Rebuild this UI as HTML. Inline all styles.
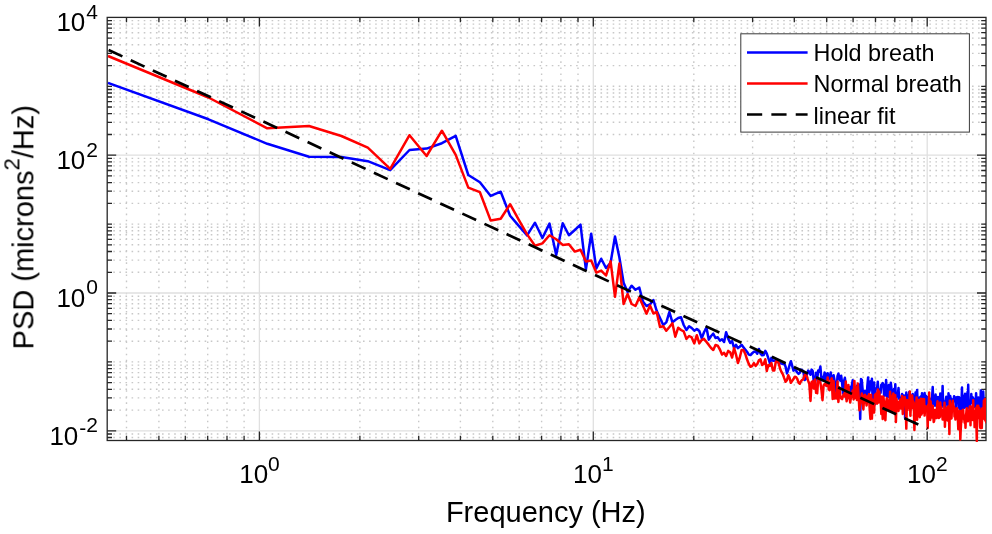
<!DOCTYPE html><html><head><meta charset="utf-8"><style>html,body{margin:0;padding:0;background:#fff;}svg{display:block;}</style></head><body><svg width="992" height="534" viewBox="0 0 992 534"><defs><clipPath id="ax"><rect x="107.2" y="15.9" width="878.8" height="426.1"/></clipPath></defs><rect width="992" height="534" fill="#fff"/><path d="M126.5 440.5V17.4M158.9 440.5V17.4M185.3 440.5V17.4M207.7 440.5V17.4M227.0 440.5V17.4M244.1 440.5V17.4M359.9 440.5V17.4M418.7 440.5V17.4M460.4 440.5V17.4M492.8 440.5V17.4M519.2 440.5V17.4M541.6 440.5V17.4M560.9 440.5V17.4M578.0 440.5V17.4M693.8 440.5V17.4M752.6 440.5V17.4M794.3 440.5V17.4M826.7 440.5V17.4M853.1 440.5V17.4M875.5 440.5V17.4M894.8 440.5V17.4M911.9 440.5V17.4M107.2 437.5H986.0M107.2 434.0H986.0M107.2 410.1H986.0M107.2 397.9H986.0M107.2 389.3H986.0M107.2 382.6H986.0M107.2 377.2H986.0M107.2 372.6H986.0M107.2 368.6H986.0M107.2 365.1H986.0M107.2 361.9H986.0M107.2 341.2H986.0M107.2 329.0H986.0M107.2 320.4H986.0M107.2 313.7H986.0M107.2 308.3H986.0M107.2 303.7H986.0M107.2 299.7H986.0M107.2 296.2H986.0M107.2 272.3H986.0M107.2 260.1H986.0M107.2 251.5H986.0M107.2 244.8H986.0M107.2 239.4H986.0M107.2 234.8H986.0M107.2 230.8H986.0M107.2 227.3H986.0M107.2 224.1H986.0M107.2 203.4H986.0M107.2 191.2H986.0M107.2 182.6H986.0M107.2 175.9H986.0M107.2 170.5H986.0M107.2 165.9H986.0M107.2 161.9H986.0M107.2 158.4H986.0M107.2 134.5H986.0M107.2 122.3H986.0M107.2 113.7H986.0M107.2 107.0H986.0M107.2 101.6H986.0M107.2 97.0H986.0M107.2 93.0H986.0M107.2 89.5H986.0M107.2 86.3H986.0M107.2 65.6H986.0M107.2 53.4H986.0M107.2 44.8H986.0M107.2 38.1H986.0M107.2 32.7H986.0M107.2 28.1H986.0M107.2 24.1H986.0M107.2 20.6H986.0" stroke="#c8c8c8" stroke-width="1.4" stroke-dasharray="1.6 4.49" fill="none"/><path d="M259.4 17.4V440.5M593.3 17.4V440.5M927.2 17.4V440.5M107.2 430.8H986.0M107.2 293.0H986.0M107.2 155.2H986.0" stroke="#e0e0e0" stroke-width="1.3" fill="none"/><path d="M126.5 440.5v-4.8M126.5 17.4v4.8M158.9 440.5v-4.8M158.9 17.4v4.8M185.3 440.5v-4.8M185.3 17.4v4.8M207.7 440.5v-4.8M207.7 17.4v4.8M227.0 440.5v-4.8M227.0 17.4v4.8M244.1 440.5v-4.8M244.1 17.4v4.8M259.4 440.5v-9.0M259.4 17.4v9.0M359.9 440.5v-4.8M359.9 17.4v4.8M418.7 440.5v-4.8M418.7 17.4v4.8M460.4 440.5v-4.8M460.4 17.4v4.8M492.8 440.5v-4.8M492.8 17.4v4.8M519.2 440.5v-4.8M519.2 17.4v4.8M541.6 440.5v-4.8M541.6 17.4v4.8M560.9 440.5v-4.8M560.9 17.4v4.8M578.0 440.5v-4.8M578.0 17.4v4.8M593.3 440.5v-9.0M593.3 17.4v9.0M693.8 440.5v-4.8M693.8 17.4v4.8M752.6 440.5v-4.8M752.6 17.4v4.8M794.3 440.5v-4.8M794.3 17.4v4.8M826.7 440.5v-4.8M826.7 17.4v4.8M853.1 440.5v-4.8M853.1 17.4v4.8M875.5 440.5v-4.8M875.5 17.4v4.8M894.8 440.5v-4.8M894.8 17.4v4.8M911.9 440.5v-4.8M911.9 17.4v4.8M927.2 440.5v-9.0M927.2 17.4v9.0M107.2 437.5h4.8M986.0 437.5h-4.8M107.2 434.0h4.8M986.0 434.0h-4.8M107.2 430.8h9.0M986.0 430.8h-9.0M107.2 410.1h4.8M986.0 410.1h-4.8M107.2 397.9h4.8M986.0 397.9h-4.8M107.2 389.3h4.8M986.0 389.3h-4.8M107.2 382.6h4.8M986.0 382.6h-4.8M107.2 377.2h4.8M986.0 377.2h-4.8M107.2 372.6h4.8M986.0 372.6h-4.8M107.2 368.6h4.8M986.0 368.6h-4.8M107.2 365.1h4.8M986.0 365.1h-4.8M107.2 361.9h4.8M986.0 361.9h-4.8M107.2 341.2h4.8M986.0 341.2h-4.8M107.2 329.0h4.8M986.0 329.0h-4.8M107.2 320.4h4.8M986.0 320.4h-4.8M107.2 313.7h4.8M986.0 313.7h-4.8M107.2 308.3h4.8M986.0 308.3h-4.8M107.2 303.7h4.8M986.0 303.7h-4.8M107.2 299.7h4.8M986.0 299.7h-4.8M107.2 296.2h4.8M986.0 296.2h-4.8M107.2 293.0h9.0M986.0 293.0h-9.0M107.2 272.3h4.8M986.0 272.3h-4.8M107.2 260.1h4.8M986.0 260.1h-4.8M107.2 251.5h4.8M986.0 251.5h-4.8M107.2 244.8h4.8M986.0 244.8h-4.8M107.2 239.4h4.8M986.0 239.4h-4.8M107.2 234.8h4.8M986.0 234.8h-4.8M107.2 230.8h4.8M986.0 230.8h-4.8M107.2 227.3h4.8M986.0 227.3h-4.8M107.2 224.1h4.8M986.0 224.1h-4.8M107.2 203.4h4.8M986.0 203.4h-4.8M107.2 191.2h4.8M986.0 191.2h-4.8M107.2 182.6h4.8M986.0 182.6h-4.8M107.2 175.9h4.8M986.0 175.9h-4.8M107.2 170.5h4.8M986.0 170.5h-4.8M107.2 165.9h4.8M986.0 165.9h-4.8M107.2 161.9h4.8M986.0 161.9h-4.8M107.2 158.4h4.8M986.0 158.4h-4.8M107.2 155.2h9.0M986.0 155.2h-9.0M107.2 134.5h4.8M986.0 134.5h-4.8M107.2 122.3h4.8M986.0 122.3h-4.8M107.2 113.7h4.8M986.0 113.7h-4.8M107.2 107.0h4.8M986.0 107.0h-4.8M107.2 101.6h4.8M986.0 101.6h-4.8M107.2 97.0h4.8M986.0 97.0h-4.8M107.2 93.0h4.8M986.0 93.0h-4.8M107.2 89.5h4.8M986.0 89.5h-4.8M107.2 86.3h4.8M986.0 86.3h-4.8M107.2 65.6h4.8M986.0 65.6h-4.8M107.2 53.4h4.8M986.0 53.4h-4.8M107.2 44.8h4.8M986.0 44.8h-4.8M107.2 38.1h4.8M986.0 38.1h-4.8M107.2 32.7h4.8M986.0 32.7h-4.8M107.2 28.1h4.8M986.0 28.1h-4.8M107.2 24.1h4.8M986.0 24.1h-4.8M107.2 20.6h4.8M986.0 20.6h-4.8" stroke="#262626" stroke-width="1.3" fill="none"/><rect x="107.2" y="17.4" width="878.8" height="423.1" stroke="#262626" stroke-width="1.3" fill="none"/><g clip-path="url(#ax)" fill="none" stroke-width="2.5" stroke-linejoin="round"><polyline points="108.0,82.9 208.5,119.3 267.3,143.8 309.0,156.7 341.4,157.0 367.8,161.2 390.2,170.2 409.5,150.0 426.6,148.6 441.9,143.2 455.7,135.8 468.3,175.0 479.9,182.2 490.7,195.9 500.7,191.7 510.1,215.7 518.8,225.9 527.1,235.4 535.0,222.7 542.4,238.0 549.5,223.6 556.2,255.1 562.7,223.2 568.9,235.2 574.8,230.0 580.5,224.7 585.9,269.6 591.2,233.7 596.3,268.4 601.2,258.7 606.0,268.0 610.6,262.7 615.0,236.5 619.4,257.5 623.6,282.7 627.6,292.0 631.6,285.7 635.5,289.8 639.3,287.5 642.9,301.6 646.5,306.0 650.0,304.4 653.4,300.0 656.7,310.8 660.0,318.0 663.2,325.0 666.3,322.4 669.4,312.0 672.4,322.4 675.3,320.0 678.2,318.0 681.0,317.2 683.7,325.0 686.4,330.0 689.1,326.2 691.7,328.0 694.3,330.7 696.8,329.0 699.3,331.0 701.7,338.2 704.1,332.0 706.5,327.7 708.8,339.7 711.1,336.0 713.3,333.7 715.5,338.0 717.7,337.3 719.9,340.6 722.0,339.2 724.1,342.0 726.1,332.2 728.2,338.7 730.2,342.9 732.1,341.1 734.1,348.1 736.0,344.8 737.9,348.1 739.8,346.7 741.6,344.8 743.4,347.2 745.2,349.5 747.0,351.8 748.8,354.6 750.5,355.1 752.2,353.2 753.9,351.8 755.6,351.4 757.3,353.7 758.9,349.0 760.5,353.7 762.1,355.3 763.7,355.0 765.3,350.9 766.8,353.7 768.4,358.4 769.9,363.1 771.4,357.9 772.9,360.7 774.3,360.7 775.8,360.3 777.2,361.7 778.7,362.6 780.1,363.1 781.5,363.6 782.9,364.0 784.2,363.1 785.6,366.8 787.0,373.4 788.3,369.6 789.6,365.0 790.9,361.2 792.2,365.9 793.5,370.6 794.8,369.2 796.1,370.6 797.3,372.5 798.6,373.9 799.8,372.9 801.0,369.6 802.2,370.1 803.4,371.5 804.6,380.0 805.8,379.0 807.0,374.3 808.2,370.6 809.3,372.0 810.5,374.8 811.6,369.6 812.7,371.1 813.8,381.6 815.0,383.1 816.1,372.7 817.2,379.2 818.2,370.4 819.3,371.6 820.4,366.5 821.5,380.2 822.5,376.9 823.6,379.9 824.6,372.5 825.6,374.3 826.6,385.9 827.7,373.2 828.7,379.5 829.7,377.7 830.7,372.4 831.7,382.3 832.7,378.1 833.6,375.2 834.6,380.7 835.6,386.5 836.5,392.6 837.5,376.2 838.4,373.6 839.4,378.3 840.3,380.6 841.2,375.8 842.1,383.0 843.0,393.6 844.0,381.0 844.9,377.8 845.8,385.9 846.6,399.0 847.5,390.9 848.4,395.7 849.3,392.6 850.2,387.1 851.0,395.2 851.9,385.1 852.7,380.2 853.6,390.2 854.4,389.0 855.3,393.0 856.1,391.9 857.0,385.8 857.8,389.5 858.6,387.2 859.4,384.6 860.2,419.0 861.0,378.9 861.8,380.0 862.6,389.6 863.4,396.6 864.2,393.4 865.0,390.8 865.8,397.0 866.6,403.0 867.3,386.4 868.1,377.4 868.9,392.8 869.6,390.8 870.4,381.6 871.1,389.2 871.9,378.8 872.6,398.4 873.4,391.5 874.1,382.4 874.9,404.3 875.6,388.5 876.3,388.3 877.0,388.7 877.8,381.7 878.5,393.7 879.2,396.2 879.9,389.2 880.6,392.8 881.3,384.7 882.0,384.2 882.7,383.1 883.4,384.3 884.1,395.7 884.8,393.2 885.4,395.2 886.1,380.0 886.8,396.4 887.5,397.1 888.1,389.4 888.8,384.9 889.5,389.2 890.1,401.6 890.8,382.7 891.4,387.8 892.1,398.6 892.7,395.4 893.4,394.4 894.0,389.1 894.7,401.0 895.3,384.3 895.9,400.6 896.6,396.2 897.2,393.5 897.8,395.1 898.5,388.0 899.1,398.8 899.7,399.2 900.3,399.0 900.9,402.5 901.5,397.5 902.1,394.0 902.8,396.8 903.4,395.6 904.0,395.5 904.6,397.0 905.1,418.1 905.7,402.5 906.3,392.5 906.9,399.3 907.5,395.6 908.1,405.0 908.7,401.0 909.3,391.9 909.8,395.8 910.4,395.1 911.0,396.7 911.5,397.8 912.1,397.4 912.7,393.9 913.2,396.3 913.8,405.1 914.4,407.4 914.9,407.4 915.5,392.5 916.0,404.3 916.6,395.1 917.1,389.9 917.7,402.8 918.2,399.5 918.8,404.4 919.3,397.8 919.8,403.6 920.4,397.4 920.9,396.3 921.4,408.7 922.0,393.3 922.5,406.8 923.0,410.9 923.5,402.5 924.1,399.9 924.6,393.0 925.1,405.5 925.6,397.8 926.1,395.9 926.7,408.8 927.2,397.0 927.7,408.4 928.2,409.4 928.7,400.0 929.2,398.6 929.7,403.3 930.2,399.1 930.7,407.6 931.2,410.8 931.7,402.7 932.2,395.4 932.7,387.0 933.2,399.9 933.7,402.4 934.1,404.2 934.6,396.3 935.1,405.7 935.6,394.5 936.1,400.3 936.6,401.9 937.0,397.3 937.5,402.8 938.0,397.1 938.5,401.9 938.9,410.1 939.4,404.5 939.9,409.5 940.3,393.4 940.8,404.1 941.3,403.9 941.7,406.9 942.2,404.5 942.6,386.0 943.1,404.9 943.6,403.8 944.0,401.2 944.5,406.0 944.9,409.5 945.4,404.0 945.8,399.6 946.3,396.8 946.7,397.5 947.2,402.7 947.6,397.5 948.1,412.5 948.5,393.3 948.9,397.4 949.4,407.9 949.8,401.1 950.2,396.0 950.7,399.9 951.1,398.4 951.5,405.6 952.0,408.1 952.4,409.1 952.8,400.3 953.3,399.3 953.7,401.4 954.1,396.2 954.5,401.2 955.0,398.8 955.4,397.4 955.8,410.4 956.2,397.6 956.6,397.4 957.0,401.3 957.5,401.5 957.9,396.9 958.3,399.1 958.7,407.6 959.1,397.3 959.5,400.2 959.9,411.2 960.3,398.6 960.7,398.5 961.1,401.0 961.5,401.7 962.0,387.5 962.4,415.8 962.8,395.7 963.2,401.9 963.5,406.0 963.9,406.0 964.3,407.7 964.7,395.8 965.1,393.8 965.5,405.5 965.9,401.4 966.3,401.9 966.7,407.7 967.1,404.0 967.5,392.1 967.9,403.1 968.2,384.7 968.6,403.3 969.0,404.7 969.4,409.0 969.8,404.5 970.2,405.2 970.5,401.1 970.9,403.1 971.3,394.0 971.7,399.3 972.0,397.9 972.4,397.7 972.8,397.3 973.2,404.5 973.5,401.6 973.9,404.3 974.3,398.9 974.6,400.4 975.0,406.9 975.4,406.0 975.7,401.3 976.1,393.2 976.5,401.9 976.8,406.3 977.2,403.5 977.6,405.3 977.9,400.2 978.3,397.4 978.6,402.5 979.0,403.0 979.3,410.8 979.7,401.2 980.1,404.7 980.4,402.7 980.8,390.6 981.1,413.1 981.5,393.7 981.8,402.8 982.2,395.8 982.5,408.6 982.9,400.9 983.2,391.6 983.6,399.1 983.9,401.8 984.2,412.3 984.6,405.4 984.9,399.2 985.3,407.9 985.6,399.3 986.0,408.4 986.3,400.9 986.6,402.8" stroke="#0000ff"/><polyline points="108.0,56.0 208.5,97.5 267.3,128.3 309.0,126.0 341.4,136.0 367.8,147.7 390.2,168.8 409.5,135.2 426.6,156.0 441.9,130.7 455.7,154.9 468.3,187.6 479.9,192.2 490.7,220.6 500.7,218.7 510.1,204.2 518.8,219.9 527.1,234.4 535.0,245.7 542.4,243.4 549.5,235.2 556.2,239.2 562.7,244.9 568.9,244.2 574.8,251.6 580.5,249.7 585.9,261.4 591.2,260.6 596.3,272.6 601.2,270.6 606.0,275.5 610.6,261.3 615.0,296.8 619.4,263.4 623.6,304.0 627.6,294.0 631.6,304.0 635.5,306.0 639.3,297.4 642.9,305.5 646.5,313.7 650.0,305.5 653.4,313.5 656.7,312.0 660.0,327.0 663.2,326.2 666.3,330.7 669.4,327.0 672.4,323.2 675.3,336.7 678.2,327.7 681.0,330.0 683.7,331.4 686.4,338.9 689.1,336.0 691.7,337.4 694.3,343.4 696.8,335.2 699.3,343.4 701.7,340.0 704.1,338.9 706.5,342.0 708.8,344.9 711.1,348.0 713.3,350.0 715.5,345.0 717.7,345.7 719.9,349.5 722.0,354.6 724.1,352.8 726.1,356.0 728.2,350.9 730.2,352.3 732.1,357.5 734.1,348.1 736.0,354.6 737.9,363.1 739.8,357.5 741.6,350.0 743.4,350.0 745.2,353.7 747.0,359.3 748.8,364.0 750.5,366.8 752.2,365.9 753.9,363.1 755.6,365.9 757.3,364.0 758.9,360.3 760.5,359.3 762.1,365.0 763.7,364.0 765.3,359.3 766.8,371.0 768.4,365.0 769.9,365.9 771.4,363.1 772.9,370.6 774.3,370.6 775.8,361.7 777.2,361.2 778.7,363.1 780.1,368.7 781.5,372.0 782.9,374.3 784.2,378.1 785.6,381.8 787.0,379.9 788.3,375.3 789.6,378.1 790.9,382.8 792.2,380.9 793.5,379.0 794.8,376.7 796.1,377.1 797.3,379.0 798.6,382.8 799.8,383.7 801.0,381.3 802.2,379.9 803.4,379.0 804.6,375.3 805.8,374.3 807.0,377.1 808.2,380.9 809.3,383.7 810.5,401.0 811.6,382.0 812.7,381.3 813.8,388.6 815.0,379.5 816.1,392.8 817.2,393.2 818.2,379.0 819.3,380.1 820.4,382.8 821.5,390.4 822.5,400.2 823.6,385.3 824.6,384.1 825.6,384.8 826.6,385.9 827.7,377.5 828.7,389.3 829.7,390.2 830.7,380.6 831.7,378.4 832.7,398.9 833.6,381.1 834.6,398.6 835.6,397.3 836.5,398.4 837.5,381.6 838.4,402.0 839.4,387.6 840.3,396.0 841.2,398.3 842.1,399.2 843.0,396.0 844.0,393.8 844.9,396.5 845.8,381.6 846.6,401.2 847.5,397.0 848.4,384.9 849.3,395.3 850.2,402.6 851.0,397.1 851.9,394.3 852.7,390.4 853.6,399.5 854.4,380.9 855.3,397.9 856.1,387.5 857.0,400.1 857.8,383.5 858.6,395.5 859.4,410.3 860.2,400.5 861.0,400.4 861.8,393.6 862.6,403.7 863.4,409.4 864.2,395.5 865.0,394.8 865.8,398.6 866.6,405.5 867.3,396.5 868.1,401.0 868.9,394.3 869.6,407.7 870.4,419.0 871.1,394.7 871.9,418.6 872.6,399.8 873.4,403.5 874.1,412.6 874.9,394.8 875.6,395.0 876.3,393.5 877.0,403.7 877.8,389.5 878.5,402.6 879.2,391.6 879.9,398.6 880.6,399.6 881.3,414.0 882.0,396.6 882.7,419.0 883.4,396.7 884.1,403.3 884.8,414.6 885.4,420.3 886.1,402.9 886.8,398.3 887.5,400.4 888.1,408.5 888.8,407.5 889.5,410.3 890.1,391.7 890.8,404.7 891.4,407.3 892.1,410.9 892.7,396.3 893.4,393.4 894.0,402.0 894.7,413.4 895.3,395.3 895.9,422.0 896.6,399.3 897.2,409.0 897.8,405.1 898.5,410.9 899.1,401.4 899.7,408.2 900.3,399.6 900.9,408.5 901.5,405.3 902.1,396.0 902.8,413.9 903.4,401.7 904.0,401.7 904.6,397.0 905.1,400.5 905.7,405.2 906.3,428.6 906.9,400.1 907.5,410.2 908.1,400.8 908.7,402.8 909.3,407.7 909.8,391.6 910.4,415.7 911.0,403.0 911.5,408.5 912.1,395.4 912.7,402.8 913.2,401.1 913.8,403.2 914.4,430.0 914.9,413.5 915.5,405.8 916.0,410.7 916.6,397.4 917.1,419.8 917.7,406.0 918.2,407.4 918.8,399.9 919.3,411.0 919.8,417.2 920.4,407.2 920.9,398.8 921.4,414.5 922.0,412.7 922.5,405.0 923.0,399.1 923.5,412.5 924.1,399.2 924.6,415.6 925.1,407.0 925.6,407.9 926.1,406.4 926.7,411.0 927.2,407.6 927.7,428.0 928.2,404.8 928.7,408.4 929.2,392.6 929.7,414.8 930.2,420.0 930.7,401.6 931.2,410.3 931.7,417.6 932.2,417.6 932.7,405.8 933.2,413.4 933.7,421.9 934.1,421.0 934.6,416.4 935.1,409.9 935.6,413.3 936.1,410.0 936.6,418.1 937.0,407.7 937.5,401.3 938.0,405.2 938.5,415.2 938.9,418.0 939.4,417.4 939.9,416.9 940.3,402.5 940.8,413.4 941.3,407.1 941.7,411.3 942.2,411.4 942.6,419.5 943.1,410.4 943.6,410.1 944.0,419.8 944.5,402.7 944.9,426.7 945.4,412.7 945.8,415.9 946.3,411.6 946.7,409.8 947.2,407.4 947.6,420.4 948.1,406.5 948.5,420.1 948.9,412.1 949.4,434.0 949.8,400.8 950.2,407.7 950.7,409.6 951.1,410.3 951.5,418.4 952.0,406.7 952.4,404.5 952.8,400.7 953.3,408.1 953.7,406.2 954.1,407.4 954.5,416.4 955.0,409.6 955.4,419.5 955.8,409.0 956.2,409.2 956.6,412.2 957.0,408.2 957.5,410.4 957.9,418.9 958.3,429.3 958.7,415.9 959.1,419.2 959.5,412.0 959.9,410.9 960.3,439.5 960.7,430.2 961.1,422.4 961.5,422.1 962.0,410.7 962.4,412.7 962.8,416.4 963.2,409.8 963.5,418.5 963.9,418.2 964.3,419.7 964.7,422.9 965.1,416.0 965.5,427.7 965.9,415.1 966.3,413.0 966.7,408.2 967.1,411.2 967.5,410.7 967.9,421.2 968.2,412.9 968.6,414.9 969.0,414.6 969.4,411.8 969.8,406.6 970.2,407.9 970.5,425.2 970.9,406.4 971.3,417.0 971.7,409.3 972.0,411.6 972.4,407.5 972.8,420.0 973.2,400.3 973.5,419.4 973.9,411.0 974.3,412.9 974.6,427.1 975.0,412.7 975.4,416.8 975.7,421.3 976.1,407.8 976.5,428.2 976.8,441.0 977.2,405.7 977.6,407.1 977.9,415.7 978.3,405.8 978.6,410.4 979.0,418.1 979.3,407.9 979.7,415.7 980.1,426.7 980.4,428.0 980.8,412.6 981.1,409.7 981.5,421.5 981.8,427.9 982.2,408.6 982.5,419.4 982.9,417.5 983.2,417.3 983.6,409.1 983.9,400.4 984.2,406.2 984.6,418.6 984.9,399.1 985.3,420.6 985.6,417.4 986.0,416.7 986.3,422.4 986.6,406.5" stroke="#ff0000"/><path d="M108.6 50.0L927.5 428.8" stroke="#000" stroke-width="2.7" stroke-dasharray="15.2 9.16"/></g><g style="filter:grayscale(1)"><g font-family="Liberation Sans, sans-serif" fill="#000"><text x="98" y="31.3" text-anchor="end" font-size="26">10<tspan font-size="21" dx="1" dy="-12.5">4</tspan></text><text x="98" y="169.1" text-anchor="end" font-size="26">10<tspan font-size="21" dx="1" dy="-12.5">2</tspan></text><text x="98" y="306.9" text-anchor="end" font-size="26">10<tspan font-size="21" dx="1" dy="-12.5">0</tspan></text><text x="98" y="444.7" text-anchor="end" font-size="26">10<tspan font-size="21" dx="1" dy="-10">-</tspan><tspan font-size="21" dy="-2.5">2</tspan></text><text x="259.5" y="483.3" text-anchor="middle" font-size="26">10<tspan font-size="21" dy="-12.8">0</tspan></text><text x="593.4" y="483.3" text-anchor="middle" font-size="26">10<tspan font-size="21" dy="-12.8">1</tspan></text><text x="927.3" y="483.3" text-anchor="middle" font-size="26">10<tspan font-size="21" dy="-12.8">2</tspan></text></g><text x="545.8" y="522.2" text-anchor="middle" font-size="29" font-family="Liberation Sans, sans-serif" fill="#000">Frequency (Hz)</text><text transform="translate(33.4 227.2) rotate(-90)" text-anchor="middle" font-size="29" font-family="Liberation Sans, sans-serif" fill="#000">PSD (microns<tspan font-size="22" dy="-13.7">2</tspan><tspan dy="13.7">/Hz)</tspan></text></g><rect x="740.8" y="33.8" width="228.6" height="98.3" fill="#fff" stroke="#3a3a3a" stroke-width="1"/><path d="M747 52.4H807.6" stroke="#0000ff" stroke-width="2.5"/><path d="M747 83.5H807.6" stroke="#ff0000" stroke-width="2.5"/><path d="M747 114.6H807.6" stroke="#000" stroke-width="2.5" stroke-dasharray="15.2 9.16"/><g style="filter:grayscale(1)" font-family="Liberation Sans, sans-serif" font-size="23.4" fill="#000"><text x="813.5" y="61.3">Hold breath</text><text x="813.5" y="92.4">Normal breath</text><text x="813.5" y="123.5">linear fit</text></g></svg></body></html>
